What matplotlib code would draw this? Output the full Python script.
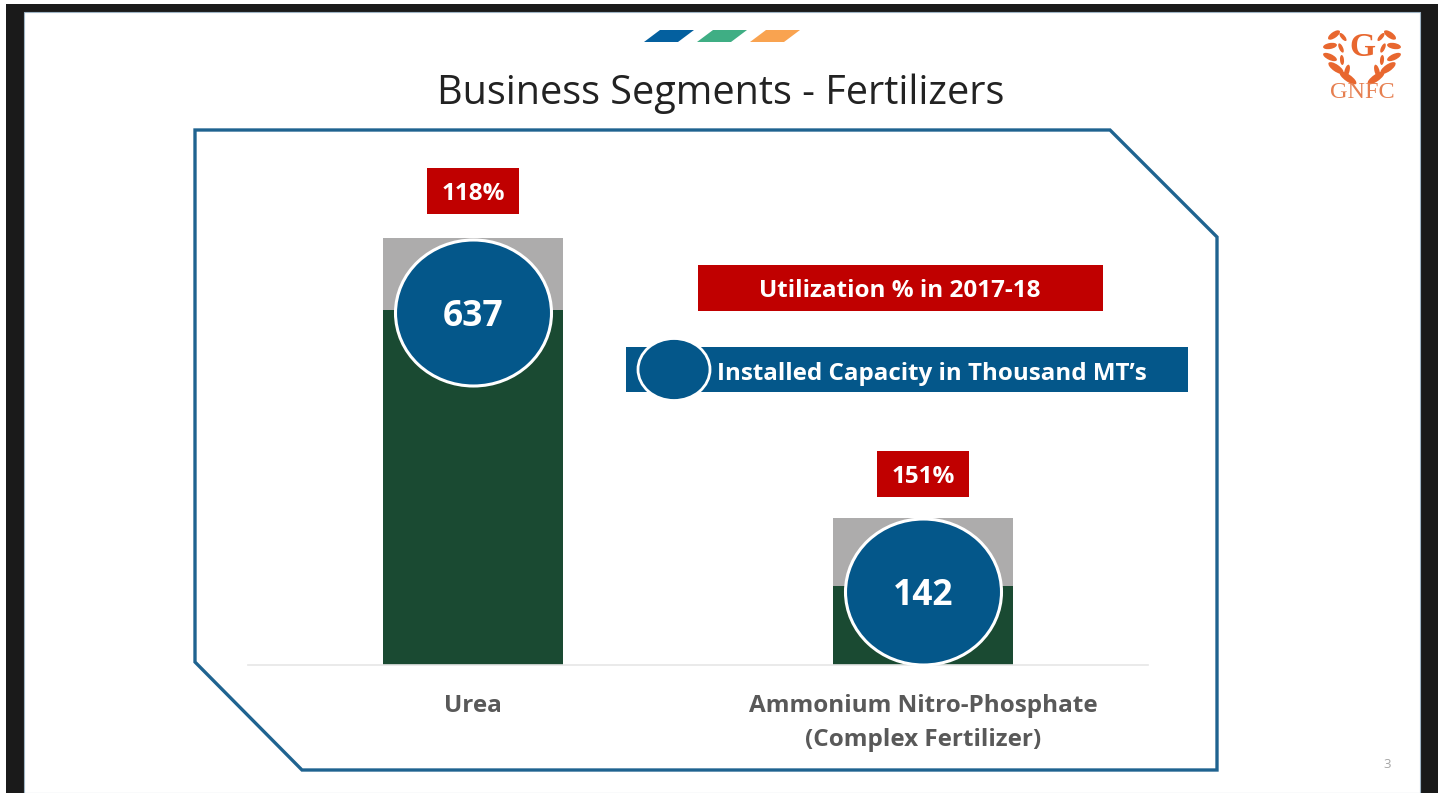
import matplotlib
matplotlib.use("Agg")
import matplotlib.pyplot as plt
from matplotlib.patches import Polygon, Ellipse, Rectangle

W, H = 1445, 793

# data
categories = ["Urea", "Ammonium Nitro-Phosphate\n(Complex Fertilizer)"]
capacity = [637, 142]
bar_total = [766, 264]
utilization = ["118%", "151%"]

BLUE = "#04578a"
GREEN = "#1a4a32"
GREY = "#adacac"
RED = "#c00000"
FRAME = "#1f6390"
FONT = ["Open Sans", "DejaVu Sans"]

fig = plt.figure(figsize=(W/100, H/100), dpi=100, facecolor="white")

# background in pixel coordinates
bg = fig.add_axes([0, 0, 1, 1])
bg.set_xlim(0, W)
bg.set_ylim(H, 0)
bg.axis("off")
bg.add_patch(Rectangle((6, 4), 1432, 789, fc="#1a1a1a", ec="none"))
bg.add_patch(Rectangle((24, 12), 1396, 781, fc="#ffffff", ec="#9fb4c4", lw=0.8))
bg.add_patch(Polygon([(195, 130), (1110, 130), (1217, 237), (1217, 770), (302, 770), (195, 662)],
                     closed=True, fc="white", ec=FRAME, lw=2.4))
for x, c in zip([644, 697, 750], ["#04609f", "#3fae84", "#f9a350"]):
    bg.add_patch(Polygon([(x, 42), (x+34, 42), (x+50, 30), (x+16, 30)], closed=True, fc=c, ec="none"))
bg.text(721, 94, "Business Segments - Fertilizers", ha="center", va="center",
        fontsize=28.5, color="#222222", family=FONT)
bg.text(1391, 764, "3", ha="right", va="center", fontsize=9.5, color="#a5a5a5", family=FONT)

# logo
ORANGE = "#e8672f"
leaves_l = [(1334, 35, 14, 6, -35), (1343, 37, 10, 4, 50), (1330, 46, 14, 6, -10), (1341, 48, 10, 4, 65),
            (1330, 57, 15, 6, 25), (1342, 60, 10, 4, 85), (1336, 68, 18, 7, 35), (1347, 71, 13, 5, -75),
            (1348, 78, 20, 7, 35)]
for x, y, w_, h_, a in leaves_l:
    bg.add_patch(Ellipse((x, y), w_, h_, angle=a, fc=ORANGE, ec="none"))
    bg.add_patch(Ellipse((2*1362-x, y), w_, h_, angle=-a, fc=ORANGE, ec="none"))
bg.text(1362, 47, "G", ha="center", va="center", fontsize=24, color=ORANGE, weight="bold", family="Liberation Serif")
bg.text(1362, 93, "GNFC", ha="center", va="center", fontsize=17.5, color="#e67f50", family="Liberation Serif")

# bar chart, baseline at y=665
ax = fig.add_axes([248/W, 1-665/H, 900/W, 535/H])
ax.patch.set_alpha(0)
xs = range(len(categories))
ax.bar(xs, bar_total, width=0.4, color=GREY)
ax.bar(xs, capacity, width=0.4, color=GREEN)
ax.set_xlim(-0.5, 1.5)
ax.set_ylim(0, 960)
ax.set_yticks([])
ax.set_xticks(list(xs))
ax.set_xticklabels(categories, fontsize=17.5, weight="bold", color="#595959",
                   family=FONT, linespacing=1.55)
ax.tick_params(axis="x", length=0, pad=21)
for s in ["top", "left", "right"]:
    ax.spines[s].set_visible(False)
ax.spines["bottom"].set_color("#e6e6e6")
ax.spines["bottom"].set_linewidth(1.2)

# overlay
ov = fig.add_axes([0, 0, 1, 1])
ov.set_xlim(0, W)
ov.set_ylim(H, 0)
ov.axis("off")
ov.patch.set_alpha(0)

ov.add_patch(Rectangle((698, 265), 405, 46, fc=RED, ec="none"))
ov.text(900, 291, "Utilization % in 2017-18", ha="center", va="center", fontsize=17.5,
        weight="bold", color="white", family=FONT)
ov.add_patch(Rectangle((626, 347), 562, 45, fc=BLUE, ec="none"))
ov.add_patch(Ellipse((674, 369.5), 72, 62, fc=BLUE, ec="white", lw=2))
ov.text(932, 374, "Installed Capacity in Thousand MT\u2019s", ha="center", va="center", fontsize=17.4,
        weight="bold", color="white", family=FONT)

for cx, cy, ly, cap, u in zip([473, 923], [313, 592], [191, 474], capacity, utilization):
    ov.add_patch(Ellipse((cx + 0.5, cy), 156, 146, fc=BLUE, ec="white", lw=2.2))
    ov.text(cx, cy+4, str(cap), ha="center", va="center", fontsize=25.5, weight="bold", color="white", family=FONT)
    ov.add_patch(Rectangle((cx-46, ly-23), 92, 46, fc=RED, ec="none"))
    ov.text(cx, ly+3, u, ha="center", va="center", fontsize=17.5, weight="bold", color="white", family=FONT)

fig.savefig("out.png", dpi=100)
